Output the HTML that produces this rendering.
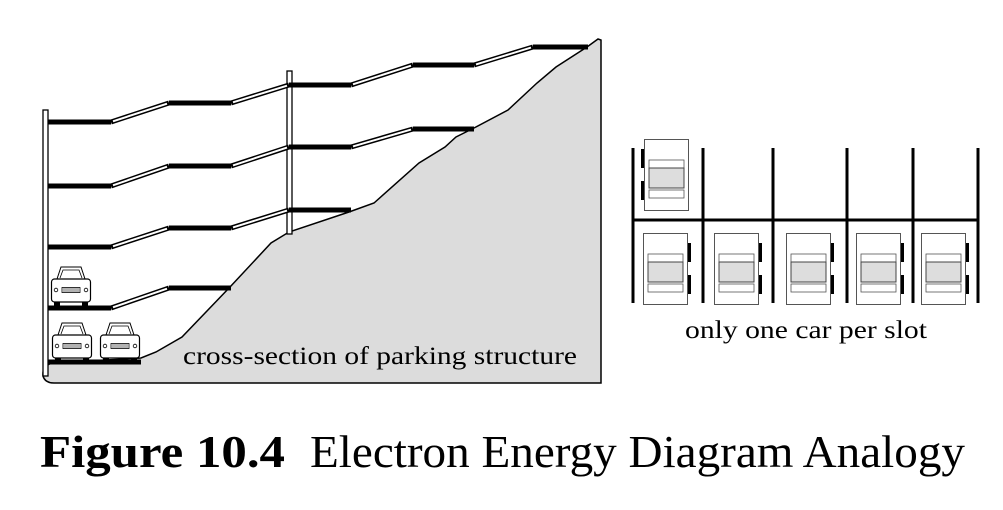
<!DOCTYPE html>
<html><head><meta charset="utf-8"><style>
html,body{margin:0;padding:0;background:#fff;}
svg{display:block;}
</style></head><body>
<svg width="1003" height="510" viewBox="0 0 1003 510" xmlns="http://www.w3.org/2000/svg">
<defs>
<g id="car">
 <!-- front view car, origin top-left, 40x40 -->
 <path d="M6,13 L10,1 L30,1 L34,13 Z" fill="#fff" stroke="#000" stroke-width="1"/>
 <path d="M9,12 L12,4 L28,4 L31,12" fill="none" stroke="#000" stroke-width="0.8"/>
 <rect x="0.5" y="13" width="39" height="23" rx="3" fill="#fff" stroke="#000" stroke-width="1.2"/>
 <circle cx="5" cy="24" r="1.8" fill="none" stroke="#000" stroke-width="0.8"/>
 <circle cx="35" cy="24" r="1.8" fill="none" stroke="#000" stroke-width="0.8"/>
 <rect x="11" y="21.5" width="18" height="5" fill="none" stroke="#000" stroke-width="0.8"/>
 <path d="M13,22 V26 M15,22 V26 M17,22 V26 M19,22 V26 M21,22 V26 M23,22 V26 M25,22 V26 M27,22 V26" stroke="#000" stroke-width="0.6"/>
 <rect x="3" y="36" width="6" height="5" fill="#000"/>
 <rect x="31" y="36" width="6" height="5" fill="#000"/>
</g>
<g id="pcar">
 <rect x="0.5" y="0.5" width="44" height="71" fill="#fff" stroke="#555" stroke-width="1"/>
 <rect x="5" y="21" width="35" height="8" fill="#fff" stroke="#555" stroke-width="0.8"/>
 <rect x="5" y="29" width="35" height="20" fill="#ddd" stroke="#444" stroke-width="1"/>
 <rect x="5" y="51" width="35" height="8" fill="#fff" stroke="#555" stroke-width="0.8"/>
 <rect x="45" y="10" width="3" height="19" fill="#000"/>
 <rect x="45" y="42" width="3" height="19" fill="#000"/>
</g>
</defs>

<!-- ground -->
<path d="M598,39 L587,47 L556,67 L537,83 L508,110 L474,128 L456,137 L445,147 L419,163 L374,203 L349,212 L289,232 L271,243 L230,287 L182,337 L156,352 L141,358 L52,363 Q42,366 43,376 Q45,383 54,383 L601,383 L601,40 Z" fill="#dcdcdc" stroke="#000" stroke-width="1.5"/>

<!-- walls -->
<rect x="43" y="110" width="5" height="266" fill="#fff" stroke="#000" stroke-width="1.3"/>
<rect x="287" y="71" width="5" height="163" fill="#fff" stroke="#000" stroke-width="1.3"/>

<!-- floors: black segments -->
<g stroke="#000" stroke-width="5" fill="none">
 <path d="M48,122 H111 M169,103 H231 M289,85 H351 M413,65 H474 M533,47 H588"/>
 <path d="M48,186 H111 M169,166 H231 M289,147 H351 M413,129 H474"/>
 <path d="M48,247 H111 M169,228 H231 M289,210 H351"/>
 <path d="M48,308 H111 M169,288 H231"/>
 <path d="M48,362 H141"/>
</g>
<!-- ramps -->
<g fill="none">
 <g stroke="#000" stroke-width="5">
  <path d="M111,122 L169,103 M231,103 L289,85 M351,85 L413,65 M474,65 L533,47"/>
  <path d="M111,186 L169,166 M231,166 L289,147 M351,147 L413,129"/>
  <path d="M111,247 L169,228 M231,228 L289,210"/>
  <path d="M111,308 L169,288"/>
 </g>
 <g stroke="#fff" stroke-width="2">
  <path d="M113,121.3 L167,103.7 M233,102.3 L287,85.7 M353,84.3 L411,65.7 M476,64.4 L531,47.6"/>
  <path d="M113,185.3 L167,166.7 M233,165.4 L287,147.6 M353,146.4 L411,129.6"/>
  <path d="M113,246.3 L167,228.7 M233,227.4 L287,210.6"/>
  <path d="M113,307.3 L167,288.7"/>
 </g>
</g>

<!-- cars -->
<use href="#car" x="51" y="266"/>
<use href="#car" x="52" y="322"/>
<use href="#car" x="100" y="322"/>

<text x="183" y="364" font-family="Liberation Serif, serif" font-size="25" textLength="394" lengthAdjust="spacingAndGlyphs">cross-section of parking structure</text>

<!-- parking lot -->
<g stroke="#000" stroke-width="3">
 <path d="M633,148 V303 M703,148 V303 M773,148 V303 M847,148 V303 M913,148 V303 M978,148 V303"/>
 <path d="M633,220 H978"/>
</g>
<g transform="translate(689,139) scale(-1,1)"><use href="#pcar"/></g>
<use href="#pcar" x="643" y="233"/>
<use href="#pcar" x="714" y="233"/>
<use href="#pcar" x="786" y="233"/>
<use href="#pcar" x="856" y="233"/>
<use href="#pcar" x="921" y="233"/>

<text x="685" y="338" font-family="Liberation Serif, serif" font-size="25" textLength="242" lengthAdjust="spacingAndGlyphs">only one car per slot</text>

<text x="40" y="467" font-family="Liberation Serif, serif" font-size="46" font-weight="bold" textLength="245" lengthAdjust="spacingAndGlyphs">Figure 10.4</text>
<text x="310" y="467" font-family="Liberation Serif, serif" font-size="46" textLength="655" lengthAdjust="spacingAndGlyphs">Electron Energy Diagram Analogy</text>
</svg>
</body></html>
